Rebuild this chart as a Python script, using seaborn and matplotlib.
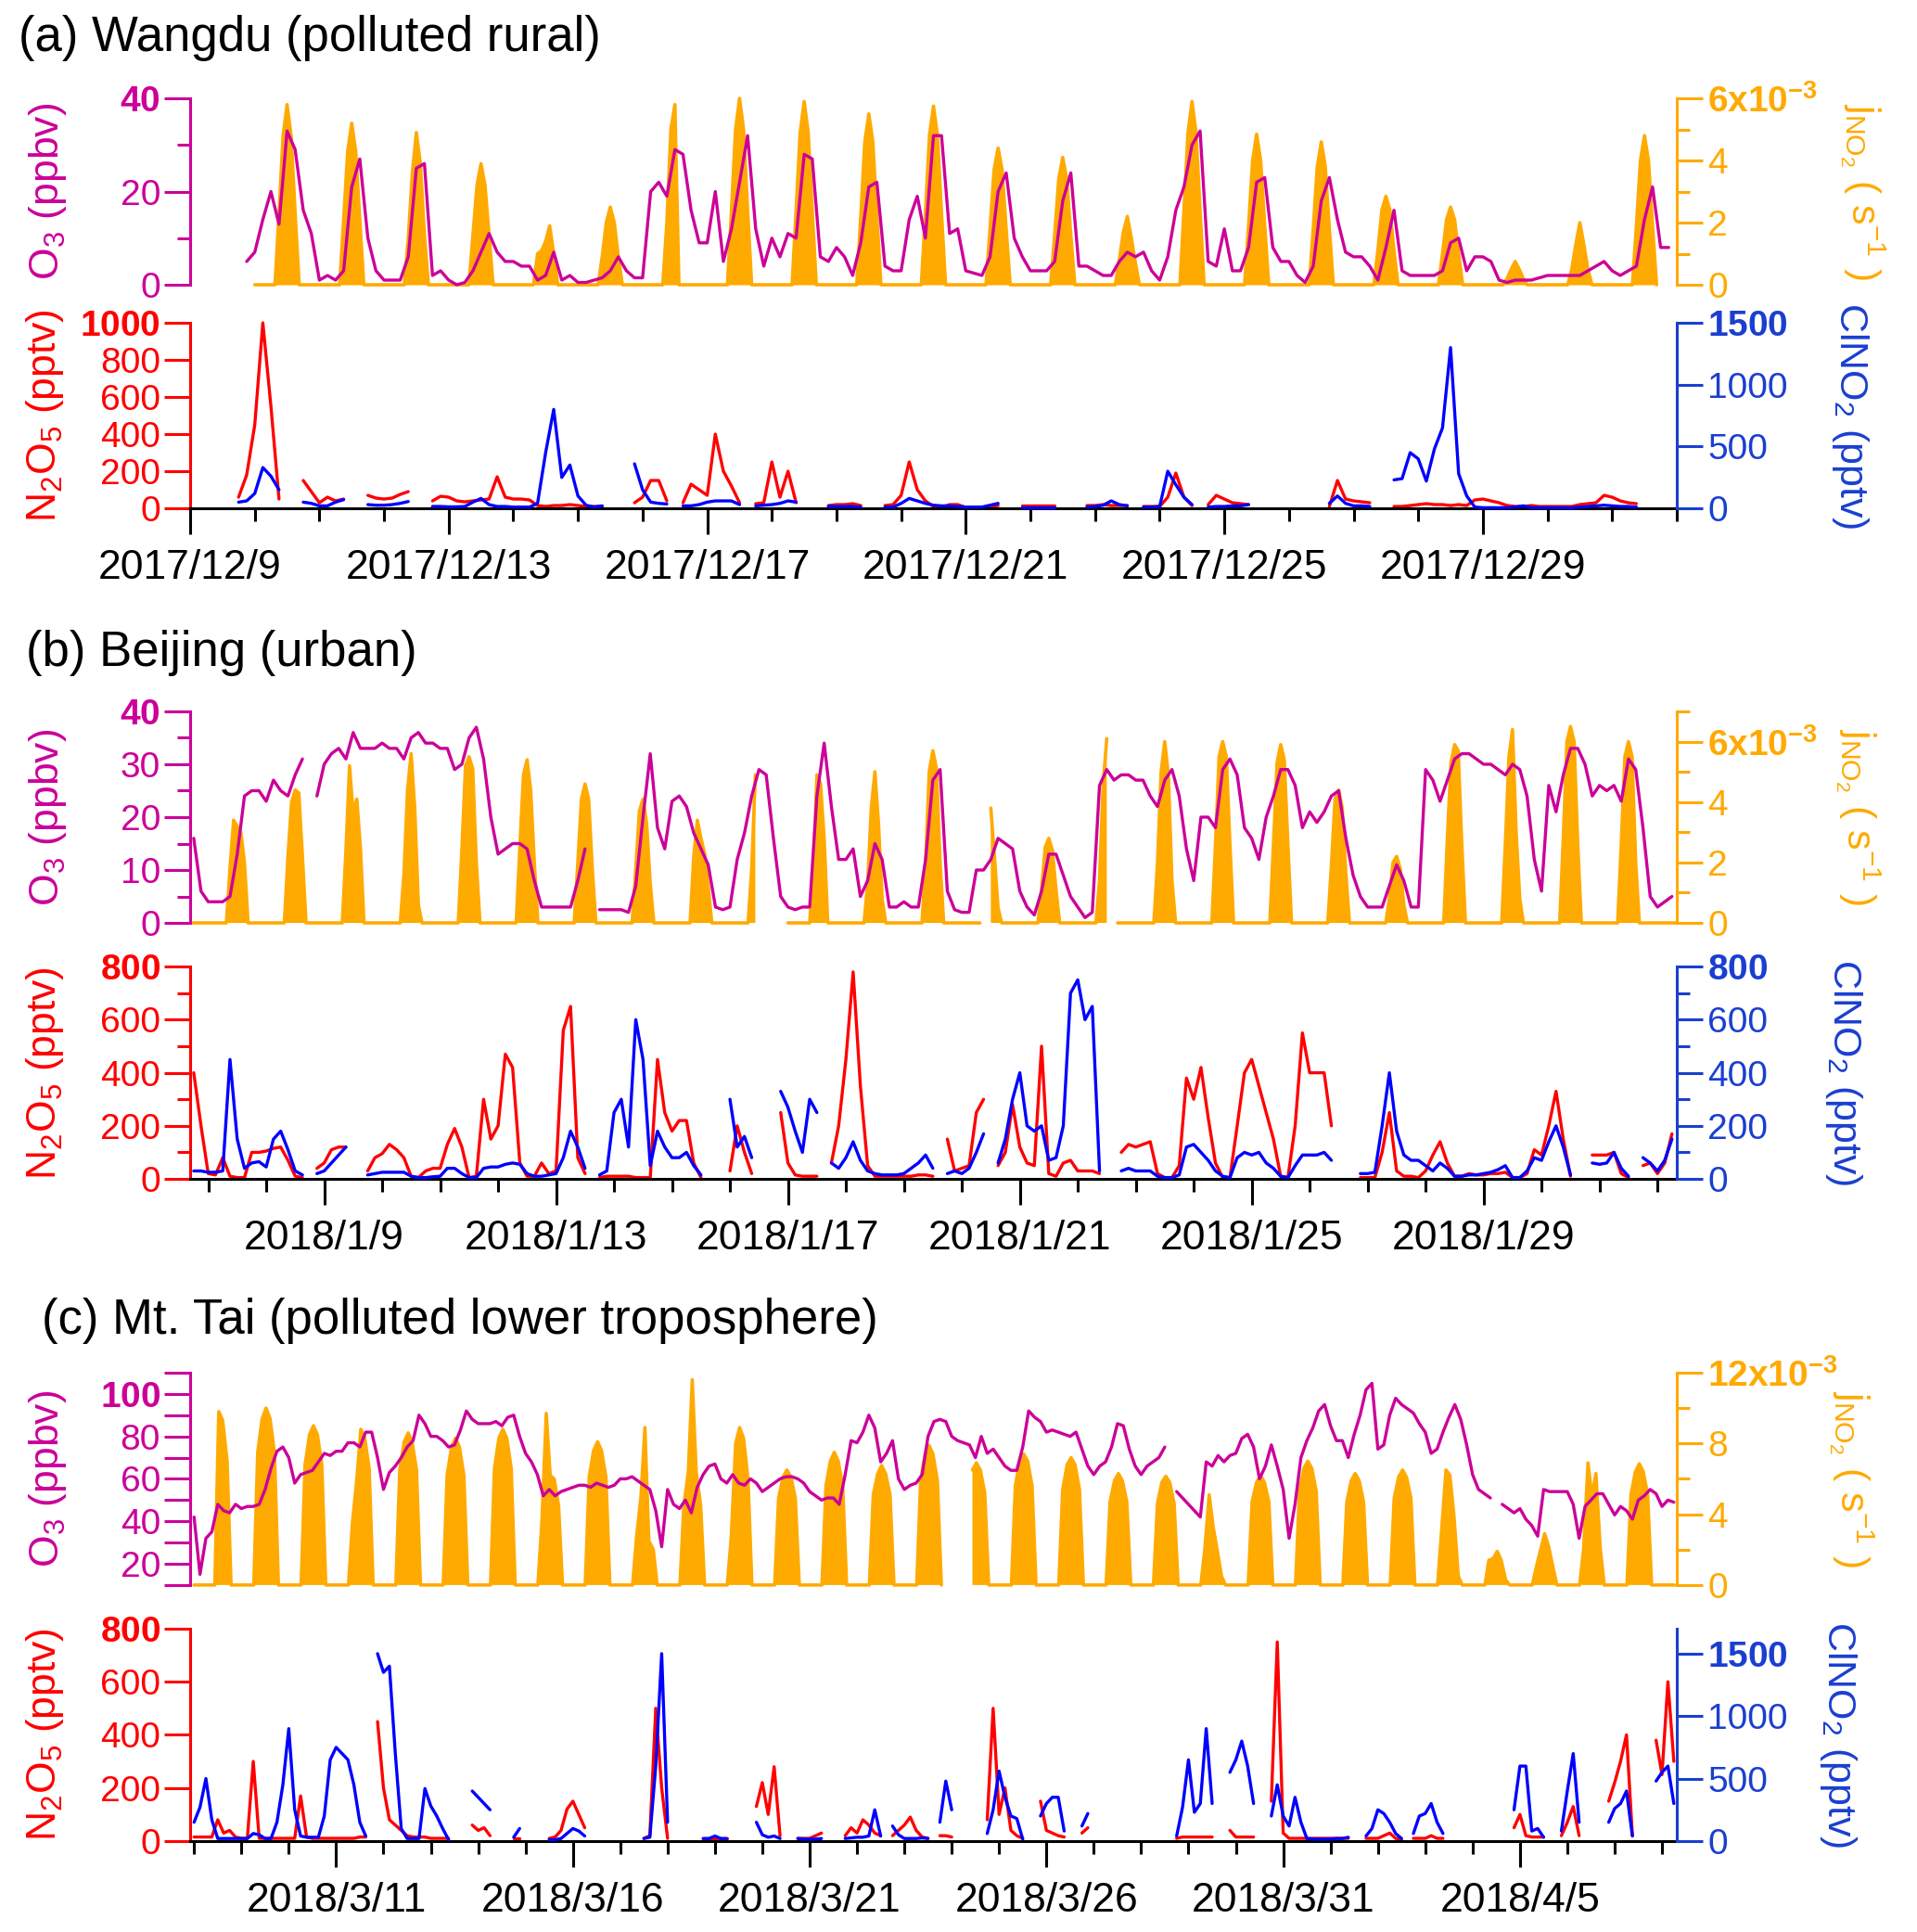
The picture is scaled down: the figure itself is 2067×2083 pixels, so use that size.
import numpy as np
import pandas as pd
import matplotlib
matplotlib.use("Agg")
import matplotlib.pyplot as plt
import matplotlib.dates as mdates
import seaborn as sns

nan = np.nan

# ==========================
# Data
# O3, N2O5, ClNO2: one row per day, values at 0,3,...,21 h
# jNO2 (1e-3 s-1): one row per day, values at the hours in H_WIN / H_SPR
# ==========================
H3 = [0, 3, 6, 9, 12, 15, 18, 21]
H_WIN = [0, 7.5, 9, 10.5, 12, 13.5, 15, 16.5]
H_SPR = [0, 6.25, 8.25, 10.5, 12.5, 14.5, 16.75, 18.75]

# (a) Wangdu, first day 2017-12-09
A_O3 = [
    [nan, nan, nan, nan, nan, nan, nan, 5],
    [7, 14, 20, 13, 33, 29, 16, 11],
    [1, 2, 1, 3, 21, 27, 10, 3],
    [1, 1, 1, 6, 25, 26, 2, 3],
    [1, 0, 0.5, 3, 7, 11, 7, 5],
    [5, 4, 4, 1, 2, 7, 1, 2],
    [0.5, 0.5, 1, 1.5, 3, 6, 3, 1.5],
    [1.5, 20, 22, 19, 29, 28, 16, 9],
    [9, 20, 5, 12, 22, 32, 12, 4],
    [10, 6, 11, 10, 28, 27, 6, 5],
    [8, 6, 2, 9, 21, 22, 4, 3],
    [3, 14, 19, 10, 32, 32, 11, 12],
    [3, 2.5, 2, 6, 20, 24, 10, 6],
    [3, 3, 3, 5, 18, 24, 4, 4],
    [3, 2, 2, 5, 7, 6, 7, 3],
    [1, 6, 16, 21, 30, 33, 5, 4],
    [12, 3, 3, 8, 22, 23, 8, 5],
    [5, 2, 0.5, 4, 18, 23, 14, 7],
    [6, 6, 4, 1, 8, 16, 3, 2],
    [2, 2, 2, 3, 9, 10, 3, 6],
    [6, 5, 1, 0.5, 1, 1, 1, 1.5],
    [2, 2, 2, 2, 2, 3, 4, 5],
    [3, 2, 3, 4, 14, 21, 8, 8],
]
A_JNO2 = [
    [nan, nan, nan, nan, nan, nan, nan, nan],
    [0, 0, 2.3, 4.8, 5.8, 4.8, 2.3, 0],
    [0, 0, 2.1, 4.3, 5.2, 4.3, 2.1, 0],
    [0, 0, 1.5, 3.6, 4.9, 3.9, 1.6, 0],
    [0, 0, 1.6, 3.2, 3.9, 3.2, 1.6, 0],
    [0, 0, 1.0, 1.1, 1.4, 1.9, 1.0, 0],
    [0, 0, 0.9, 2.0, 2.5, 2.0, 0.9, 0],
    [0, 0, 2.0, 5.0, 5.8, 0, 0, 0],
    [0, 0, 2.4, 5.0, 6.0, 5.0, 2.4, 0],
    [0, 0, 2.4, 4.9, 5.9, 4.9, 2.4, 0],
    [0, 0, 2.2, 4.6, 5.5, 4.6, 2.2, 0],
    [0, 0, 2.3, 4.8, 5.75, 4.8, 2.3, 0],
    [0, 0, 1.8, 3.7, 4.4, 3.7, 1.8, 0],
    [0, 0, 1.6, 3.4, 4.1, 3.4, 1.6, 0],
    [0, 0, 0.8, 1.7, 2.2, 1.5, 0.7, 0],
    [0, 0, 2.4, 4.9, 5.9, 4.9, 2.4, 0],
    [0, 0, 1.9, 4.0, 4.85, 4.0, 1.9, 0],
    [0, 0, 1.8, 3.8, 4.6, 3.8, 1.8, 0],
    [0, 0, 1.1, 2.4, 2.85, 2.4, 1.1, 0],
    [0, 0, 1.0, 2.1, 2.5, 2.1, 1.0, 0],
    [0, 0, 0.2, 0.5, 0.75, 0.5, 0.2, 0],
    [0, 0, 0.5, 1.3, 2.0, 1.3, 0.5, 0],
    [0, 0, 1.9, 4.0, 4.8, 4.0, 1.9, 0],
]
A_N2O5 = [
    [nan, nan, nan, nan, nan, nan, 60, 180],
    [450, 1000, 550, 50, nan, nan, 150, 90],
    [30, 60, 40, 50, nan, nan, 70, 55],
    [50, 55, 75, 90, nan, nan, 40, 65],
    [60, 40, 35, 40, 45, 50, 170, 60],
    [50, 50, 45, 15, 10, 15, 15, 20],
    [15, 10, 10, 10, nan, nan, nan, 30],
    [60, 150, 150, 40, nan, 30, 130, 100],
    [70, 400, 200, 120, 30, nan, 25, 30],
    [250, 60, 200, 30, nan, nan, nan, 15],
    [20, 20, 25, 15, nan, nan, 15, 20],
    [70, 250, 100, 40, 10, 5, 20, 20],
    [5, 5, 5, 10, 15, nan, nan, 15],
    [15, 15, 15, 15, nan, nan, nan, 15],
    [15, 20, 15, 15, 15, nan, 10, 10],
    [10, 60, 190, 60, 15, nan, 20, 70],
    [50, 30, 25, 20, nan, nan, nan, nan],
    [nan, nan, nan, nan, nan, 10, 150, 50],
    [40, 35, 30, nan, nan, 10, 10, 15],
    [20, 25, 20, 20, 15, 20, 15, 45],
    [50, 40, 30, 15, 10, 10, 15, 10],
    [10, 10, 10, 10, 20, 25, 30, 70],
    [60, 40, 30, 25, nan, nan, nan, nan],
]
A_CLNO2 = [
    [nan, nan, nan, nan, nan, nan, 50, 60],
    [120, 330, 260, 150, nan, nan, 50, 40],
    [20, 20, 50, 70, nan, nan, 30, 25],
    [25, 30, 40, 55, nan, nan, 15, 15],
    [12, 12, 15, 50, 80, 30, 15, 15],
    [10, 10, 10, 40, 450, 800, 250, 350],
    [100, 25, 10, 20, nan, nan, nan, 360],
    [150, 50, 40, 35, nan, 20, 20, 30],
    [50, 60, 60, 60, 30, nan, 20, 25],
    [30, 40, 60, 50, nan, nan, nan, 15],
    [15, 15, 15, 10, nan, nan, 10, 10],
    [40, 80, 60, 40, 25, 20, 20, 15],
    [10, 10, 10, 25, 40, nan, nan, 10],
    [10, 10, 10, 10, nan, nan, nan, 10],
    [15, 25, 60, 30, 20, nan, 10, 10],
    [15, 300, 190, 90, 30, nan, 10, 15],
    [15, 20, 20, 30, nan, nan, nan, nan],
    [nan, nan, nan, nan, nan, 40, 100, 40],
    [20, 20, 15, nan, nan, 230, 240, 450],
    [400, 220, 480, 650, 1300, 280, 100, 10],
    [5, 5, 5, 5, 10, 20, 5, 5],
    [5, 5, 5, 5, 10, 15, 20, 25],
    [20, 15, 15, 10, nan, nan, nan, nan],
]

# (b) Beijing, first day 2018-01-06
B_O3 = [
    [nan, nan, nan, nan, nan, nan, 16, 6],
    [4, 4, 4, 5, 13, 24, 25, 25],
    [23, 27, 25, 24, 28, 31, nan, 24],
    [30, 32, 33, 31, 36, 33, 33, 33],
    [34, 33, 33, 31, 35, 36, 34, 34],
    [33, 33, 29, 30, 35, 37, 31, 20],
    [13, 14, 15, 15, 14, 8, 3, 3],
    [3, 3, 3, 8, 14, nan, 2.5, 2.5],
    [2.5, 2.5, 2, 7, 20, 32, 18, 14],
    [23, 24, 22, 17, 14, 11, 3, 2.5],
    [3, 12, 17, 24, 29, 28, 16, 5],
    [3, 2.5, 3, 3, 24, 34, 22, 12],
    [12, 14, 5, 8, 15, 12, 3, 3],
    [4, 3, 3, 12, 27, 29, 6, 2.5],
    [2, 2, 10, 10, 12, 16, 15, 14],
    [6, 3, 1.5, 6, 13, 13, 9, 5],
    [3, 1, 2, 26, 29, 27, 28, 28],
    [27, 27, 24, 22, 27, 29, 24, 14],
    [8, 20, 20, 18, 29, 31, 28, 18],
    [16, 12, 20, 24, 29, 29, 26, 18],
    [21, 19, 21, 24, 25, 16, 9, 5],
    [3, 3, 3, 7, 11, 8, 3, 3],
    [29, 27, 23, 27, 31, 32, 32, 31],
    [30, 30, 29, 28, 30, 29, 24, 12],
    [6, 26, 21, 28, 33, 33, 30, 24],
    [26, 25, 26, 23, 31, 29, 18, 5],
    [3, 4, 5, nan, nan, nan, nan, nan],
]
B_JNO2 = [
    [nan, nan, nan, nan, nan, nan, nan, 0],
    [0, 0, 1.8, 3.4, 3.2, 3.0, 2.0, 0],
    [0, 0, 2.2, 4.0, 4.4, 4.3, 2.2, 0],
    [0, 0, 2.4, 5.2, 3.6, 4.1, 2.5, 0],
    [0, 0, 1.6, 4.4, 5.6, 3.8, 0.6, 0],
    [0, 0, 2.4, 5.2, 5.5, 5.1, 2.0, 0],
    [0, 0, 2.5, 4.9, 5.4, 4.4, 2.0, 0],
    [0, 0, 2.0, 4.1, 4.6, 4.1, 1.8, 0],
    [0, 0, 1.8, 3.7, 4.1, 3.3, 1.3, 0],
    [0, 0, 2.2, 3.4, 2.8, 2.3, 1.2, 0],
    [0, 0, 1.8, 4.9, nan, nan, nan, nan],
    [0, 0, 0, 1.8, 4.9, 4.6, 2.8, 0],
    [0, 0, 1.3, 3.8, 5.0, 3.3, 0.8, 0],
    [0, 0, 2.0, 5.0, 5.7, 5.1, 2.0, 0],
    [0, 0, nan, nan, 3.8, 2.2, 0.5, 0],
    [0, 0, 1.1, 2.5, 2.8, 2.4, 1.1, 0],
    [0, 0, 1.4, 4.6, 6.1, nan, nan, 0],
    [0, 0, 2.0, 5.0, 6.0, 4.9, 1.4, 0],
    [0, 0, 2.6, 5.5, 6.0, 5.5, 2.6, 0],
    [0, 0, 2.6, 5.3, 5.9, 5.4, 2.6, 0],
    [0, 0, 1.9, 4.1, 4.4, 3.8, 1.6, 0],
    [0, 0, 0.8, 2.0, 2.2, 1.8, 0.6, 0],
    [0, 0, 2.8, 5.3, 5.9, 5.7, 2.6, 0],
    [0, 0, 2.6, 5.5, 6.4, 3.0, 0.8, 0],
    [0, 0, 2.8, 6.0, 6.5, 6.0, 2.6, 0],
    [0, 0, 2.6, 5.5, 6.0, 5.5, 2.0, 0],
    [0, 0, nan, nan, nan, nan, nan, nan],
]
B_N2O5 = [
    [nan, nan, nan, nan, nan, nan, 400, 200],
    [20, 15, 80, 10, 5, 5, 100, 100],
    [105, 115, 120, 70, 10, 5, nan, 40],
    [60, 110, 120, 120, nan, nan, 30, 80],
    [95, 130, 110, 80, 10, 5, 30, 40],
    [40, 130, 190, 120, 5, 10, 300, 150],
    [200, 470, 420, 60, 10, 10, 60, 20],
    [30, 560, 650, 80, 20, nan, 5, 10],
    [10, 10, 10, 5, 5, 5, 450, 250],
    [180, 220, 220, 60, 5, nan, nan, nan],
    [30, 200, 100, 20, nan, nan, nan, 250],
    [60, 15, 10, 10, 10, nan, 60, 200],
    [450, 780, 350, 50, 10, 10, 10, 10],
    [10, 10, 15, 15, 10, nan, 150, 30],
    [40, 50, 250, 300, nan, 50, 100, 280],
    [120, 60, 50, 500, 20, 10, 60, 70],
    [30, 30, 30, 20, nan, nan, 100, 130],
    [120, 130, 140, 20, 5, 5, 50, 380],
    [300, 420, 230, 60, 5, 5, 200, 400],
    [450, 350, 250, 150, 10, 5, 200, 550],
    [400, 400, 400, 200, nan, nan, nan, 5],
    [5, 5, 100, 250, 30, 10, 10, 5],
    [30, 90, 140, 60, 10, 10, 20, 15],
    [15, 20, 20, 25, 5, 5, 20, 110],
    [90, 200, 330, 150, 10, nan, nan, 90],
    [90, 90, 100, 20, 5, nan, 50, 60],
    [20, 60, 170, nan, nan, nan, nan, nan],
]
B_CLNO2 = [
    [nan, nan, nan, nan, nan, nan, 30, 30],
    [25, 25, 30, 450, 150, 40, 60, 65],
    [45, 150, 180, 110, 30, 15, nan, 20],
    [30, 60, 90, 120, nan, nan, 15, 20],
    [25, 25, 25, 25, 10, 5, 5, 8],
    [10, 40, 40, 20, 5, 5, 40, 45],
    [45, 55, 60, 55, 20, 10, 10, 15],
    [20, 80, 180, 120, 40, nan, 15, 30],
    [250, 300, 120, 600, 450, 50, 180, 120],
    [80, 80, 100, 50, 15, nan, nan, nan],
    [300, 120, 160, 80, nan, nan, nan, 330],
    [270, 180, 100, 300, 250, nan, 60, 40],
    [80, 140, 70, 30, 20, 15, 15, 15],
    [20, 40, 60, 90, 40, nan, 20, 30],
    [20, 40, 100, 170, nan, 60, 150, 300],
    [400, 200, 180, 200, 70, 80, 200, 700],
    [750, 600, 650, 30, nan, nan, 30, 40],
    [30, 30, 30, 10, 5, 5, 15, 120],
    [130, 100, 70, 30, 10, 5, 80, 100],
    [90, 100, 60, 40, 10, 5, 50, 90],
    [90, 90, 100, 70, nan, nan, nan, 20],
    [20, 25, 200, 400, 180, 90, 70, 70],
    [50, 30, 60, 40, 10, 10, 15, 15],
    [20, 25, 35, 50, 5, 5, 30, 80],
    [70, 140, 200, 120, 15, nan, nan, 60],
    [55, 60, 100, 40, 10, nan, 80, 60],
    [30, 70, 150, nan, nan, nan, nan, nan],
]

# (c) Mt. Tai, first day 2018-03-07
C_O3 = [
    [nan, nan, nan, nan, nan, nan, nan, nan],
    [42, 15, 32, 35, 48, 45, 44, 48],
    [46, 47, 47, 48, 55, 65, 73, 75],
    [70, 58, 62, 63, 64, 68, 72, 71],
    [73, 73, 77, 77, 75, 82, 82, 70],
    [55, 63, 66, 70, 75, 78, 90, 86],
    [80, 80, 78, 75, 76, 83, 92, 88],
    [86, 86, 86, 87, 85, 89, 90, 80],
    [72, 68, 62, 52, 55, 52, 54, 55],
    [56, 57, 57, 56, 58, 57, 56, 57],
    [60, 60, 61, 59, 57, 55, 45, 28],
    [55, 48, 46, 50, 44, 56, 62, 66],
    [67, 60, 58, 62, 58, 57, 60, 58],
    [54, 56, 58, 60, 61, 61, 60, 58],
    [54, 52, 50, 51, 51, 48, 62, 78],
    [77, 82, 90, 84, 68, 72, 78, 60],
    [55, 57, 58, 62, 80, 87, 88, 87],
    [80, 78, 77, 76, 70, 80, 72, 74],
    [70, 66, 64, 64, 75, 92, 89, 87],
    [82, 83, 82, 81, 80, 82, 74, 66],
    [62, 66, 68, 75, 86, 85, 74, 66],
    [62, 66, 68, 70, 75, nan, 54, 51],
    [48, 45, 42, 68, 66, 71, 68, 71],
    [72, 79, 81, 75, 60, 66, 76, 66],
    [55, 32, 48, 70, 78, 84, 92, 95],
    [85, 78, 78, 70, 81, 90, 102, 105],
    [74, 76, 90, 98, 95, 93, 91, 86],
    [82, 72, 74, 82, 89, 95, 88, 76],
    [62, 55, 53, 51, nan, 48, 46, 44],
    [46, 41, 38, 33, 55, 54, 54, 54],
    [54, 48, 32, 47, 50, 53, 53, 48],
    [43, 47, 45, 41, 50, 52, 55, 53],
    [47, 50, 49, nan, nan, nan, nan, nan],
]
C_JNO2 = [
    [nan, nan, nan, nan, nan, nan, nan, nan],
    [0, 0, 0, 0, 9.8, 9.3, 7.0, 0],
    [0, 0, 7.5, 9.4, 10.0, 9.4, 7.5, 0],
    [0, 0, 6.8, 8.5, 9.0, 8.5, 6.8, 0],
    [0, 0, 3.5, 6.0, 8.8, 8.3, 6.6, 0],
    [0, 0, 6.5, 8.1, 8.6, 8.1, 6.5, 0],
    [0, 0, 6.2, 7.8, 8.3, 7.8, 6.2, 0],
    [0, 0, 6.6, 8.3, 8.8, 8.3, 6.6, 0],
    [0, 0, 3.5, 9.7, 6.2, 6.0, 4.5, 0],
    [0, 0, 6.1, 7.6, 8.1, 7.6, 6.1, 0],
    [0, 0, 2.7, 5.0, 8.9, 2.5, 2.0, 0],
    [0, 0, 4.5, 6.4, 11.6, 6.4, 4.5, 0],
    [0, 0, 2.7, 8.0, 8.9, 8.3, 6.0, 0],
    [0, 0, 4.9, 6.1, 6.5, 6.1, 4.9, 0],
    [0, 0, 5.6, 7.0, 7.5, 7.0, 5.6, 0],
    [0, 0, 5.1, 6.3, 6.75, 6.3, 5.1, 0],
    [0, 0, 5.9, 7.4, 7.9, 7.4, 5.9, 0],
    [nan, nan, nan, 6.5, 6.9, 6.5, 5.2, 0],
    [0, 0, 5.6, 7.0, 7.4, 7.0, 5.6, 0],
    [0, 0, 5.4, 6.8, 7.2, 6.8, 5.4, 0],
    [0, 0, 4.7, 5.9, 6.3, 5.9, 4.7, 0],
    [0, 0, 4.6, 5.8, 6.15, 5.8, 4.6, 0],
    [0, 0, 2.0, 5.1, 3.3, 2.0, 0.5, 0],
    [0, 0, 4.7, 5.8, 6.2, 5.8, 4.7, 0],
    [0, 0, 5.3, 6.6, 7.0, 6.6, 5.3, 0],
    [0, 0, 4.7, 5.9, 6.3, 5.9, 4.7, 0],
    [0, 0, 4.9, 6.1, 6.5, 6.1, 4.9, 0],
    [0, 0, 3.0, 6.5, 6.2, 4.0, 0.5, 0],
    [0, 0, 1.4, 1.5, 1.9, 1.4, 0.3, 0],
    [0, 0, 1.0, 2.0, 2.9, 2.2, 1.0, 0],
    [0, 0, 2.0, 6.9, 5.0, 6.3, 2.0, 0],
    [0, 0, 5.1, 6.4, 6.85, 6.4, 5.1, 0],
    [0, 0, nan, nan, nan, nan, nan, nan],
]
C_N2O5 = [
    [nan, nan, nan, nan, nan, nan, nan, nan],
    [15, 15, 15, 15, 80, 30, 40, 15],
    [10, 10, 300, 10, 10, 10, 10, 10],
    [10, 10, 170, 15, 10, 10, 10, 10],
    [10, 10, 10, 10, 15, 15, nan, 450],
    [200, 80, 60, 40, 20, 15, 15, 15],
    [10, 10, 10, 10, nan, nan, nan, 60],
    [40, 50, 20, nan, nan, nan, 10, 10],
    [nan, nan, nan, nan, 10, 15, 40, 120],
    [150, 100, 50, nan, nan, nan, nan, nan],
    [nan, nan, nan, nan, 10, 20, 500, 200],
    [10, nan, nan, nan, nan, nan, 10, 10],
    [10, 10, 10, nan, nan, nan, nan, 130],
    [220, 100, 280, 20, nan, nan, 10, 10],
    [10, 20, 30, nan, nan, nan, 20, 50],
    [30, 80, 60, 30, 20, nan, 20, 40],
    [60, 90, 40, 15, 10, nan, 20, 20],
    [15, nan, nan, nan, nan, nan, 80, 500],
    [100, 200, 40, 20, 10, nan, nan, 150],
    [40, 30, 20, 15, nan, nan, 30, 50],
    [nan, nan, nan, nan, nan, nan, nan, nan],
    [nan, nan, nan, nan, nan, nan, 10, 15],
    [15, 15, 15, 15, 15, nan, nan, 40],
    [15, 15, 15, 15, nan, nan, 150, 750],
    [30, 10, 10, 10, 10, 10, 10, 10],
    [10, 10, 10, 10, nan, nan, 10, 10],
    [10, 20, 30, 10, 5, nan, 10, 10],
    [10, 20, 10, 10, nan, nan, nan, nan],
    [nan, nan, nan, nan, nan, nan, nan, 50],
    [100, 20, 15, 15, 15, nan, nan, 20],
    [70, 130, 20, nan, nan, nan, nan, 150],
    [220, 300, 400, 20, nan, nan, nan, 380],
    [250, 600, 300, nan, nan, nan, nan, nan],
]
C_CLNO2 = [
    [nan, nan, nan, nan, nan, nan, nan, nan],
    [150, 270, 500, 170, 20, 20, 20, 20],
    [20, 20, 60, 50, 20, 20, 150, 450],
    [900, 250, 40, 30, 30, 30, 200, 650],
    [750, 700, 650, 450, 150, 40, nan, 1500],
    [1350, 1400, 700, 100, 20, 20, 20, 420],
    [280, 200, 100, 10, nan, nan, nan, 400],
    [350, 300, 250, nan, nan, nan, 30, 100],
    [nan, nan, nan, nan, 10, 10, 20, 60],
    [100, 80, 40, nan, nan, nan, nan, nan],
    [nan, nan, nan, nan, 20, 30, 600, 1500],
    [150, nan, nan, nan, nan, nan, 20, 20],
    [40, 20, 20, nan, nan, nan, nan, 150],
    [50, 30, 40, 20, nan, nan, 20, 15],
    [15, 15, 20, nan, nan, nan, 20, 25],
    [30, 30, 40, 250, 40, nan, 120, 50],
    [20, 20, 20, 25, 20, nan, 150, 480],
    [250, nan, nan, nan, nan, nan, 60, 250],
    [560, 350, 200, 180, 15, nan, nan, 200],
    [300, 350, 350, 80, nan, nan, 120, 220],
    [nan, nan, nan, nan, nan, nan, nan, nan],
    [nan, nan, nan, nan, nan, nan, 40, 270],
    [650, 230, 300, 900, 300, nan, nan, 550],
    [650, 800, 600, 300, nan, nan, 200, 450],
    [200, 120, 350, 150, 20, 15, 15, 15],
    [15, 20, 20, 30, nan, nan, 40, 100],
    [250, 220, 150, 60, 20, nan, 60, 200],
    [220, 300, 150, 60, nan, nan, nan, nan],
    [nan, nan, nan, nan, nan, nan, nan, 250],
    [600, 600, 80, 100, 30, nan, nan, 80],
    [400, 700, 150, nan, nan, nan, nan, 150],
    [260, 300, 400, 40, nan, nan, nan, 480],
    [550, 600, 300, nan, nan, nan, nan, nan],
]

# axis ticks and labels
A_XTICKS = ["2017-12-09", "2017-12-13", "2017-12-17", "2017-12-21", "2017-12-25", "2017-12-29"]
A_XLABELS = ["2017/12/9", "2017/12/13", "2017/12/17", "2017/12/21", "2017/12/25", "2017/12/29"]
B_XTICKS = ["2018-01-09", "2018-01-13", "2018-01-17", "2018-01-21", "2018-01-25", "2018-01-29"]
B_XLABELS = ["2018/1/9", "2018/1/13", "2018/1/17", "2018/1/21", "2018/1/25", "2018/1/29"]
C_XTICKS = ["2018-03-11", "2018-03-16", "2018-03-21", "2018-03-26", "2018-03-31", "2018-04-05"]
C_XLABELS = ["2018/3/11", "2018/3/16", "2018/3/21", "2018/3/26", "2018/3/31", "2018/4/5"]

# colours
COL_O3 = "#cc0099"
COL_JNO2 = "#ffaa00"
COL_N2O5 = "#ff0000"
COL_CL_LINE = "#0000ff"
COL_CL_AXIS = "#1a3fd0"

# ==========================
# Style
# ==========================
sns.set_theme(style="ticks")
plt.rcParams["font.family"] = ["Liberation Sans", "DejaVu Sans"]
plt.rcParams["mathtext.fontset"] = "custom"
plt.rcParams["mathtext.rm"] = "Liberation Sans"
plt.rcParams["mathtext.it"] = "Liberation Sans:italic"
plt.rcParams["mathtext.bf"] = "Liberation Sans:bold"

LW_SPINE = 2.2
LW_DATA = 2.4
FS_YTICK = 28
FS_XTICK = 32
FS_LABEL_L = 32
FS_LABEL_R = 31
FS_TITLE = 38


def day_series(start, hours, rows):
    t0 = mdates.date2num(pd.Timestamp(start))
    t = [t0 + i + h / 24.0 for i in range(len(rows)) for h in hours]
    v = [x for row in rows for x in row]
    return np.array(t), np.array(v, dtype=float)


def draw_line(ax, t, v, color, lw):
    df = pd.DataFrame({"t": t, "v": v})
    df["seg"] = df["v"].isna().cumsum()
    df = df.dropna()
    sns.lineplot(data=df, x="t", y="v", units="seg", estimator=None, sort=False,
                 color=color, linewidth=lw, ax=ax, legend=False)
    ax.set_xlabel("")
    ax.set_ylabel("")


def style_y(ax, side, color, lim, ticks, labels, minor, minor_len=10):
    ax.set_ylim(*lim)
    ax.set_yticks(ticks, labels)
    ax.set_yticks(minor, minor=True)
    ax.yaxis.set_ticks_position(side)
    ax.tick_params(axis="y", which="both", direction="out", colors=color, width=LW_SPINE)
    ax.tick_params(axis="y", which="major", length=20, labelsize=FS_YTICK,
                   pad=3 if side == "left" else 4)
    ax.tick_params(axis="y", which="minor", length=minor_len)
    for name, sp in ax.spines.items():
        sp.set_visible(name == side)
    ax.spines[side].set_color(color)
    ax.spines[side].set_linewidth(LW_SPINE)


def bold(s):
    return r"$\mathbf{" + s + "}$"


def draw_panel(fig, p):
    left, width = 205 / 2067, 1603 / 2067
    x0 = mdates.date2num(pd.Timestamp(p["xlim"][0]))
    x1 = mdates.date2num(pd.Timestamp(p["xlim"][1]))

    # top: O3 + jNO2
    ax_j = fig.add_axes([left, p["top"][0], width, p["top"][1]])
    ax_o = ax_j.twinx()
    t, v = day_series(p["start"], p["hours_j"], p["jno2"])
    ax_j.fill_between(t, 0, v, color=COL_JNO2, linewidth=0)
    draw_line(ax_j, t, v, COL_JNO2, 2.6)
    t, v = day_series(p["start"], H3, p["o3"])
    draw_line(ax_o, t, v, COL_O3, LW_DATA)

    # bottom: N2O5 + ClNO2
    ax_n = fig.add_axes([left, p["bot"][0], width, p["bot"][1]])
    ax_c = ax_n.twinx()
    t, v = day_series(p["start"], H3, p["n2o5"])
    draw_line(ax_n, t, v, COL_N2O5, LW_DATA)
    t, v = day_series(p["start"], H3, p["clno2"])
    draw_line(ax_c, t, v, COL_CL_LINE, LW_DATA)

    for ax in (ax_j, ax_o, ax_n, ax_c):
        ax.set_xlim(x0, x1)
        for art in list(ax.lines) + list(ax.collections):
            art.set_clip_on(False)

    style_y(ax_o, "left", COL_O3, p["o3_lim"], p["o3_ticks"], p["o3_labels"],
            p["o3_minor"], p.get("o3_minor_len", 10))
    style_y(ax_j, "right", COL_JNO2, p["j_lim"], p["j_ticks"], p["j_labels"], p["j_minor"])
    style_y(ax_n, "left", COL_N2O5, p["n_lim"], p["n_ticks"], p["n_labels"], p["n_minor"])
    style_y(ax_c, "right", COL_CL_AXIS, p["c_lim"], p["c_ticks"], p["c_labels"], p["c_minor"])

    ax_j.tick_params(axis="x", which="both", bottom=False, top=False, labelbottom=False)

    # date axis
    ax_n.spines["bottom"].set_visible(True)
    ax_n.spines["bottom"].set_color("black")
    ax_n.spines["bottom"].set_linewidth(LW_SPINE)
    major = [mdates.date2num(pd.Timestamp(d)) for d in p["xticks"]]
    days = pd.date_range(pd.Timestamp(p["xlim"][0]).ceil("D"), pd.Timestamp(p["xlim"][1]), freq="D")
    ax_n.set_xticks(major, p["xlabels"])
    ax_n.set_xticks(mdates.date2num(days), minor=True)
    ax_n.tick_params(axis="x", which="both", direction="out", color="black",
                     width=LW_SPINE, bottom=True, top=False)
    ax_n.tick_params(axis="x", which="major", length=20, labelsize=FS_XTICK, pad=12,
                     labelcolor="black")
    ax_n.tick_params(axis="x", which="minor", length=10)

    # labels and title
    top_mid = p["top"][0] + p["top"][1] / 2
    bot_mid = p["bot"][0] + p["bot"][1] / 2
    fig.text(0.025, top_mid, r"O$_3$ (ppbv)", color=COL_O3, fontsize=FS_LABEL_L,
             rotation=90, ha="center", va="center")
    fig.text(0.0235, bot_mid, r"N$_2$O$_5$ (pptv)", color=COL_N2O5, fontsize=FS_LABEL_L,
             rotation=90, ha="center", va="center")
    fig.text(p["jx"], top_mid, r"j$_{\mathrm{NO_2}}$ ( s$^{-1}$ )", color=COL_JNO2,
             fontsize=FS_LABEL_R, rotation=270, ha="center", va="center")
    fig.text(p["cx"], bot_mid, r"ClNO$_2$ (pptv)", color=COL_CL_AXIS,
             fontsize=FS_LABEL_R, rotation=270, ha="center", va="center")
    fig.text(p["title_xy"][0], p["title_xy"][1], p["title"], fontsize=FS_TITLE,
             color="black", ha="left", va="center")


PANELS = [
    dict(title="(a) Wangdu (polluted rural)", title_xy=(0.0097, 0.9805),
         start="2017-12-09", xlim=("2017-12-09 00:00", "2018-01-01 00:00"),
         hours_j=H_WIN, o3=A_O3, jno2=A_JNO2, n2o5=A_N2O5, clno2=A_CLNO2,
         top=(0.8526, 0.0965), bot=(0.7369, 0.0960),
         xticks=A_XTICKS, xlabels=A_XLABELS,
         o3_lim=(0, 40), o3_ticks=[0, 20, 40], o3_labels=["0", "20", bold("40")], o3_minor=[10, 30],
         j_lim=(0, 6), j_ticks=[0, 2, 4, 6], j_labels=["0", "2", "4", bold("6x10^{-3}")], j_minor=[1, 3, 5],
         n_lim=(0, 1000), n_ticks=[0, 200, 400, 600, 800, 1000],
         n_labels=["0", "200", "400", "600", "800", bold("1000")], n_minor=[],
         c_lim=(0, 1500), c_ticks=[0, 500, 1000, 1500],
         c_labels=["0", "500", "1000", bold("1500")], c_minor=[],
         jx=0.9714, cx=0.9652),
    dict(title="(b) Beijing (urban)", title_xy=(0.0135, 0.662),
         start="2018-01-06", xlim=("2018-01-06 16:30", "2018-02-01 08:00"),
         hours_j=H_WIN, o3=B_O3, jno2=B_JNO2, n2o5=B_N2O5, clno2=B_CLNO2,
         top=(0.5223, 0.1095), bot=(0.3898, 0.1099),
         xticks=B_XTICKS, xlabels=B_XLABELS,
         o3_lim=(0, 40), o3_ticks=[0, 10, 20, 30, 40], o3_labels=["0", "10", "20", "30", bold("40")],
         o3_minor=[5, 15, 25, 35],
         j_lim=(0, 7), j_ticks=[0, 2, 4, 6], j_labels=["0", "2", "4", bold("6x10^{-3}")], j_minor=[1, 3, 5, 7],
         n_lim=(0, 800), n_ticks=[0, 200, 400, 600, 800],
         n_labels=["0", "200", "400", "600", bold("800")], n_minor=[100, 300, 500, 700],
         c_lim=(0, 800), c_ticks=[0, 200, 400, 600, 800],
         c_labels=["0", "200", "400", "600", bold("800")], c_minor=[100, 300, 500, 700],
         jx=0.969, cx=0.962),
    dict(title="(c) Mt. Tai (polluted lower troposphere)", title_xy=(0.0218, 0.3164),
         start="2018-03-07", xlim=("2018-03-07 22:00", "2018-04-08 07:30"),
         hours_j=H_SPR, o3=C_O3, jno2=C_JNO2, n2o5=C_N2O5, clno2=C_CLNO2,
         top=(0.1796, 0.1099), bot=(0.0471, 0.1099),
         xticks=C_XTICKS, xlabels=C_XLABELS,
         o3_lim=(10, 110), o3_ticks=[20, 40, 60, 80, 100],
         o3_labels=["20", "40", "60", "80", bold("100")], o3_minor=[10, 30, 50, 70, 90, 110],
         o3_minor_len=20,
         j_lim=(0, 12), j_ticks=[0, 4, 8, 12], j_labels=["0", "4", "8", bold("12x10^{-3}")], j_minor=[2, 6, 10],
         n_lim=(0, 800), n_ticks=[0, 200, 400, 600, 800],
         n_labels=["0", "200", "400", "600", bold("800")], n_minor=[],
         c_lim=(0, 1700), c_ticks=[0, 500, 1000, 1500],
         c_labels=["0", "500", "1000", bold("1500")], c_minor=[],
         jx=0.9657, cx=0.959),
]

fig = plt.figure(figsize=(20.67, 20.83), dpi=100)
fig.patch.set_facecolor("white")
for p in PANELS:
    draw_panel(fig, p)

fig.savefig("out.png", dpi=100)
